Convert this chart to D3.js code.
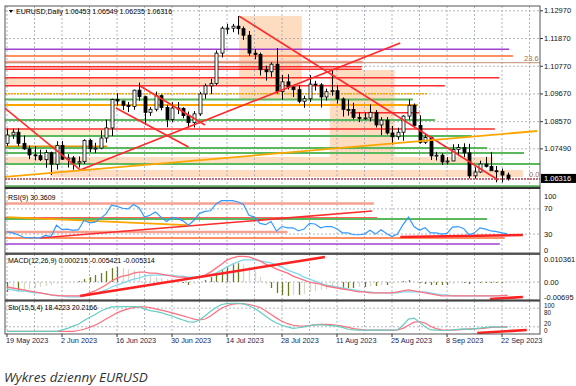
<!DOCTYPE html>
<html><head><meta charset="utf-8">
<script src="https://cdn.jsdelivr.net/npm/d3@7"></script>
<style>body{margin:0;background:#fff}svg{display:block}</style></head>
<body>
<script>
// ---------- DATA ----------
const dateLabels=["19 May 2023","2 Jun 2023","16 Jun 2023","30 Jun 2023","14 Jul 2023","28 Jul 2023","11 Aug 2023","25 Aug 2023","8 Sep 2023","22 Sep 2023"];
const labelBars=[0,10,20,30,40,50,60,70,80,90];
const open=[1.0771,1.0804,1.0815,1.0771,1.0749,1.0725,1.0722,1.0706,1.0734,1.0688,
1.0763,1.0708,1.0713,1.0693,1.0698,1.0782,1.0749,1.0752,1.0792,1.0832,
1.0945,1.0939,1.0922,1.0917,1.0982,1.0956,1.0894,1.0906,1.0960,1.0913,
1.0866,1.0911,1.0910,1.0881,1.0853,1.0888,1.0967,1.0999,1.1009,1.1129,
1.1228,1.1228,1.1236,1.1226,1.1200,1.1129,1.1124,1.1063,1.1055,1.1085,
1.0976,1.1015,1.0995,1.0984,1.0938,1.0948,1.1006,1.1003,1.0955,1.0976,
1.0980,1.0947,1.0905,1.0905,1.0874,1.0872,1.0872,1.0894,1.0844,1.0863,
1.0812,1.0797,1.0815,1.0879,1.0922,1.0842,1.0775,1.0794,1.0721,1.0724,
1.0697,1.0701,1.0747,1.0754,1.0733,1.0642,1.0657,1.0689,1.0679,1.0662,
1.0659,1.06453];
const high=[1.0829,1.0829,1.0830,1.0802,1.0762,1.0760,1.0746,1.0745,1.0738,1.0779,
1.0780,1.0728,1.0721,1.0719,1.0787,1.0789,1.0773,1.0823,1.0865,1.0948,
1.0970,1.0940,1.0935,1.0984,1.1012,1.0960,1.0915,1.0976,1.0965,1.0924,
1.0934,1.0935,1.0914,1.0897,1.0899,1.0975,1.1008,1.1027,1.1140,1.1235,
1.1245,1.1245,1.1276,1.1235,1.1217,1.1145,1.1131,1.1079,1.1092,1.1149,
1.1042,1.1045,1.1001,1.1002,1.0960,1.1042,1.1019,1.1010,1.0988,1.1065,
1.1003,1.0953,1.0945,1.0932,1.0895,1.0893,1.0925,1.0903,1.0875,1.0875,
1.0840,1.0833,1.0882,1.0945,1.0929,1.0882,1.0810,1.0797,1.0737,1.0731,
1.0716,1.0767,1.0768,1.0771,1.0769,1.0676,1.0702,1.0717,1.0737,1.0681,
1.0671,1.06549];
const low=[1.0761,1.0788,1.0760,1.0745,1.0708,1.0703,1.0701,1.0674,1.0645,1.0667,
1.0705,1.0675,1.0666,1.0675,1.0689,1.0736,1.0732,1.0748,1.0774,1.0800,
1.0921,1.0903,1.0895,1.0904,1.0940,1.0844,1.0880,1.0898,1.0902,1.0835,
1.0855,1.0887,1.0870,1.0833,1.0834,1.0880,1.0948,1.0966,1.1002,1.1112,
1.1205,1.1212,1.1203,1.1181,1.1118,1.1105,1.1040,1.1020,1.1035,1.0968,
1.0944,1.0985,1.0955,1.0930,1.0912,1.0935,1.0980,1.0913,1.0941,1.0960,
1.0929,1.0877,1.0881,1.0866,1.0855,1.0864,1.0858,1.0834,1.0803,1.0806,
1.0766,1.0785,1.0781,1.0866,1.0834,1.0770,1.0768,1.0705,1.0703,1.0685,
1.0687,1.0700,1.0720,1.0716,1.0632,1.0631,1.0654,1.0675,1.0669,1.0616,
1.0616,1.06235];
const close=[1.0804,1.0815,1.0771,1.0749,1.0725,1.0722,1.0706,1.0734,1.0688,1.0763,
1.0708,1.0713,1.0693,1.0698,1.0782,1.0749,1.0752,1.0792,1.0832,1.0945,
1.0939,1.0922,1.0917,1.0982,1.0956,1.0894,1.0906,1.0960,1.0913,1.0866,
1.0911,1.0910,1.0881,1.0853,1.0888,1.0967,1.0999,1.1009,1.1129,1.1228,
1.1228,1.1236,1.1226,1.1200,1.1129,1.1124,1.1063,1.1055,1.1085,1.0976,
1.1015,1.0995,1.0984,1.0938,1.0948,1.1006,1.1003,1.0955,1.0976,1.0980,
1.0947,1.0905,1.0905,1.0874,1.0872,1.0872,1.0894,1.0844,1.0863,1.0812,
1.0797,1.0815,1.0879,1.0922,1.0842,1.0775,1.0794,1.0721,1.0724,1.0697,
1.0701,1.0747,1.0754,1.0733,1.0642,1.0657,1.0689,1.0679,1.0662,1.0659,
1.0645,1.06316];
const rsi=[34,32,29,25,24,24,24,28,26,44,37,38,36,37,52,48,49,55,62,76,
74,71,70,77,72,57,60,65,57,50,56,55,51,44,52,63,66,67,78,83,
83,83,81,77,60,57,47,45,50,35,42,40,40,35,38,47,46,40,42,42,
38,32,32,29,29,30,36,30,37,31,26,30,45,57,42,36,40,32,32,30,
31,41,42,39,29,32,40,38,35,34,32,30.36];
const macdMain=[-0.0020,-0.0024,-0.0028,-0.0032,-0.0036,-0.0040,-0.0044,-0.0048,-0.0052,-0.0054,
-0.0056,-0.0056,-0.0056,-0.0056,-0.0052,-0.0044,-0.0036,-0.0024,-0.0012,0.0004,
0.0016,0.0024,0.0028,0.0036,0.0040,0.0040,0.0036,0.0036,0.0032,0.0028,
0.0024,0.0020,0.0020,0.0016,0.0016,0.0020,0.0028,0.0040,0.0056,0.0072,
0.0089,0.0097,0.0103,0.0103,0.0101,0.0093,0.0085,0.0072,0.0064,0.0052,
0.0044,0.0036,0.0024,0.0016,0.0008,0.0000,-0.0004,-0.0008,-0.0016,-0.0020,
-0.0024,-0.0028,-0.0032,-0.0036,-0.0040,-0.0040,-0.0044,-0.0044,-0.0044,-0.0044,
-0.0044,-0.0040,-0.0036,-0.0032,-0.0036,-0.0040,-0.0044,-0.0048,-0.0052,-0.0056,
-0.0056,-0.0056,-0.0056,-0.0056,-0.0056,-0.0056,-0.0056,-0.0056,-0.0056,-0.0056,
-0.0055,-0.005421];
const macdSignal=[-0.0028,-0.0032,-0.0036,-0.0036,-0.0040,-0.0044,-0.0044,-0.0048,-0.0052,-0.0056,
-0.0056,-0.0060,-0.0060,-0.0060,-0.0056,-0.0052,-0.0048,-0.0040,-0.0032,-0.0020,
-0.0012,-0.0004,0.0004,0.0012,0.0016,0.0024,0.0028,0.0028,0.0028,0.0028,
0.0028,0.0024,0.0024,0.0020,0.0020,0.0020,0.0024,0.0028,0.0036,0.0048,
0.0060,0.0072,0.0081,0.0089,0.0089,0.0089,0.0085,0.0081,0.0077,0.0068,
0.0060,0.0048,0.0040,0.0032,0.0020,0.0012,0.0004,-0.0004,-0.0012,-0.0016,
-0.0020,-0.0024,-0.0028,-0.0032,-0.0036,-0.0040,-0.0040,-0.0044,-0.0044,-0.0044,
-0.0044,-0.0044,-0.0040,-0.0040,-0.0040,-0.0040,-0.0040,-0.0044,-0.0048,-0.0052,
-0.0052,-0.0056,-0.0056,-0.0056,-0.0056,-0.0056,-0.0056,-0.0056,-0.0056,-0.0056,
-0.0055,-0.005314];
const macdHist=[-0.0040,-0.0032,-0.0036,-0.0032,-0.0028,-0.0024,-0.0020,-0.0016,-0.0012,-0.0008,
-0.0004,-0.0002,-0.0001,0.0004,0.0012,0.0020,0.0028,0.0036,0.0044,0.0056,
0.0060,0.0056,0.0052,0.0048,0.0040,0.0032,0.0024,0.0020,0.0016,0.0012,
0.0004,0.0000,-0.0004,-0.0012,-0.0008,0.0000,0.0008,0.0020,0.0036,0.0052,
0.0064,0.0072,0.0076,0.0072,0.0060,0.0044,0.0020,-0.0008,-0.0024,-0.0044,
-0.0052,-0.0056,-0.0052,-0.0052,-0.0048,-0.0040,-0.0036,-0.0032,-0.0028,-0.0024,
-0.0020,-0.0024,-0.0024,-0.0024,-0.0020,-0.0020,-0.0016,-0.0016,-0.0012,-0.0012,
-0.0008,-0.0004,0.0004,0.0008,0.0000,-0.0004,-0.0008,-0.0012,-0.0012,-0.0012,
-0.0012,-0.0008,-0.0004,-0.0004,-0.0008,-0.0004,-0.0004,-0.0004,-0.0004,-0.0004,
-0.0004,0.000215];
const stoMain=[5,5,5,5,5,5,5,5,5,5,10,15,22,28,40,50,60,70,78,84,
84,85,85,85,84,78,72,70,66,60,55,48,42,36,35,42,55,70,82,92,
95,96,96,94,88,80,68,55,42,32,25,20,15,17,20,24,26,26,25,24,
22,18,12,10,9,9,9,9,9,9,9,10,25,45,48,35,20,10,9,8,
8,10,12,13,12,14,16,18,20,20,19,18.42];
const stoSignal=[5,5,5,5,5,5,5,5,5,5,5,5,5,8,12,18,25,35,45,55,
65,72,78,82,84,84,82,78,74,70,65,60,55,50,45,42,45,55,68,80,
88,93,95,95,92,88,82,72,60,48,38,30,25,23,22,24,26,28,28,27,
25,22,18,14,12,10,9,9,9,9,9,10,15,25,35,37,32,22,14,10,
9,9,10,12,13,13,14,16,18,19,20,20.22];
const priceTicks=[1.12970,1.11870,1.10770,1.09670,1.08570,1.07490];
const lastPrice=1.06316;
// horizontal levels on price chart: price, from bar, to bar, style key
const levelPrice=[1.11441,1.11176,1.10937,1.1091,1.10751,1.10648,1.10314,1.09997,1.0968,1.09449,1.09231,1.08926,1.08636,1.08279,1.08001,1.07564,1.07524,1.07326,1.06889,1.06294,1.0598];
const levelFrom=[-2,-2,-2,-2,-2,-2,-2,-2,-2,-2,-2,62.4,-2,-2,-2,-2,-2,-2,-2,-2,-2];
const levelTo=[91.3,92,64.7,100,64.5,64.5,89.5,79.6,76.5,73.8,74.7,75,77.8,88.7,84.5,18.2,87.3,94,100,100,100];
const levelKind=["purple","orangered","salmon","fib","red","red","red","red","gold","green","orange","red","green","red","green","orangeThick","green","green","green","maroon","greenThick"];
// rectangles: bars a..b, prices p1..p2
const rectA=[-2,42.2,58.7,-2,7.8,-2];
const rectB=[42.2,53.6,70.5,88.4,93.8,18.7];
const rectP1=[1.10314,1.1276,1.10620,1.07168,1.06651,1.08239];
const rectP2=[1.09997,1.0945,1.06969,1.06929,1.06373,1.08040];
const rectKind=["peach","peach","peach","peach","peach","pale"];
// trendlines price: bar1, price1, bar2, price2
const trendB1=[42.2,13.3,-0.4,24.2,19.8,-0.4];
const trendP1=[1.1276,1.06652,1.09112,1.09985,1.09112,1.06374];
const trendB2=[89.3,71.5,13.3,36,33,96.4];
const trendP2=[1.06255,1.11691,1.06652,1.08437,1.07564,1.08199];
const trendKind=["red","red","red","red","red","orange"];
// RSI objects
const rsiLevel=[78.6,55.6,54,33.3,23.8,14.3];
const rsiLevelTo=[66.7,67.3,87.3,51,90.5,89.6];
const rsiLevelKind=["salmon","red","green","salmon","orangered","purple"];
const rsiTrendB1=[0,6,71.5], rsiTrendV1=[57.1,23.8,25.4], rsiTrendB2=[32.7,66.4,93.8], rsiTrendV2=[44.4,66.7,28.6];
const rsiTrendKind=["orange","red","redThick"];
const rsiTicks=[100,70,30,0];
// MACD objects
const macdTrendB1=[13.3,87.8], macdTrendV1=[-0.00564,-0.0068], macdTrendB2=[57.8,93.8], macdTrendV2=[0.0101,-0.006];
const macdTicks=[0.010361,0.00,-0.00695];
const macdTickText=["0.010361","0.00","-0.00695"];
// Sto objects
const stoTrendB1=[85.5], stoTrendV1=[0], stoTrendB2=[94.5], stoTrendV2=[9.7];
const stoTicks=[100,80,20,0];

// ---------- STYLES ----------
const S={
 purple:{c:"#a040d0",w:1.6}, orangered:{c:"#ff6a30",w:1.6}, salmon:{c:"#f7a090",w:2.4},
 fib:{c:"#c09070",w:1}, red:{c:"#ff2a2a",w:1.6}, gold:{c:"#f5a500",w:1.6,d:"2,1"},
 green:{c:"#5cb85c",w:2}, orange:{c:"#ffa500",w:1.8}, orangeThick:{c:"#e8900c",w:3},
 maroon:{c:"#b04050",w:1.5,d:"2,1"}, greenThick:{c:"#5aa85a",w:3.5},
 redThick:{c:"#ff2020",w:2.6}
};
const RF={peach:"#fddcc0",pale:"#fbf1d0"};

const W=576,H=386, L=5, R=540;
const P={main:[6,188],rsi:[188,253],macd:[254,300],sto:[301,334]};
const svg=d3.select("body").append("svg").attr("width",W).attr("height",H)
 .style("font-family","'Liberation Sans',Arial,sans-serif");
svg.append("rect").attr("width",W).attr("height",H).attr("fill","#fff");

const x=d3.scaleLinear().domain([0,91]).range([7,507.5]);
const yM=d3.scaleLinear().domain([1.0598,1.1297]).range([186.9,10.8]);
const yR=d3.scaleLinear().domain([0,100]).range([253,190]);
const yD=d3.scaleLinear().domain([-0.00695,0.010361]).range([299.3,256.3]);
const yS=d3.scaleLinear().domain([0,100]).range([333,302]);

const defs=svg.append("defs");
Object.entries(P).forEach(([k,[t,b]])=>{
  defs.append("clipPath").attr("id","c"+k).append("rect").attr("x",L).attr("y",t).attr("width",R-L).attr("height",b-t);
});
const gM=svg.append("g").attr("clip-path","url(#cmain)");
const gR=svg.append("g").attr("clip-path","url(#crsi)");
const gD=svg.append("g").attr("clip-path","url(#cmacd)");
const gS=svg.append("g").attr("clip-path","url(#csto)");

// rectangles
gM.selectAll(".rc").data(rectA).join("rect")
 .attr("x",(d,i)=>x(rectA[i])).attr("width",(d,i)=>x(rectB[i])-x(rectA[i]))
 .attr("y",(d,i)=>yM(rectP1[i])).attr("height",(d,i)=>yM(rectP2[i])-yM(rectP1[i]))
 .attr("fill",(d,i)=>RF[rectKind[i]]);

// grid
const gridBars=d3.range(0,96,5);
const gridStyle=g=>g.attr("stroke","#9aa3b5").attr("stroke-width",0.8).attr("stroke-dasharray","2,2");
[[gM,P.main],[gR,P.rsi],[gD,P.macd],[gS,P.sto]].forEach(([g,[t,b]])=>{
  g.selectAll(".vg").data(gridBars).join("line").attr("x1",d=>x(d)).attr("x2",d=>x(d)).attr("y1",t).attr("y2",b).call(gridStyle);
});
gM.selectAll(".hg").data(priceTicks).join("line").attr("x1",L).attr("x2",R).attr("y1",d=>yM(d)).attr("y2",d=>yM(d)).call(gridStyle);
gR.selectAll(".hg").data([70,30]).join("line").attr("x1",L).attr("x2",R).attr("y1",d=>yR(d)).attr("y2",d=>yR(d)).call(gridStyle);
gD.append("line").attr("x1",L).attr("x2",R).attr("y1",yD(0)).attr("y2",yD(0)).call(gridStyle);
gS.selectAll(".hg").data([80,20]).join("line").attr("x1",L).attr("x2",R).attr("y1",d=>yS(d)).attr("y2",d=>yS(d)).call(gridStyle);

function styled(sel,kind){const s=S[kind];sel.attr("stroke",s.c).attr("stroke-width",s.w);if(s.d)sel.attr("stroke-dasharray",s.d);return sel;}

// levels
levelPrice.forEach((p,i)=>{
  gM.append("line").attr("x1",x(levelFrom[i])).attr("x2",x(levelTo[i])).attr("y1",yM(p)).attr("y2",yM(p)).call(styled,levelKind[i]);
});

// candles
const idx=d3.range(open.length);
gM.selectAll(".wick").data(idx).join("line")
 .attr("x1",i=>Math.round(x(i))+0.5).attr("x2",i=>Math.round(x(i))+0.5)
 .attr("y1",i=>yM(high[i])).attr("y2",i=>yM(low[i])).attr("stroke","#000").attr("stroke-width",1);
gM.selectAll(".body").data(idx).join("rect")
 .attr("x",i=>Math.round(x(i))-1).attr("width",3)
 .attr("y",i=>yM(Math.max(open[i],close[i])))
 .attr("height",i=>Math.max(1,Math.abs(yM(open[i])-yM(close[i]))))
 .attr("fill",i=>close[i]>=open[i]?"#fff":"#000").attr("stroke","#000").attr("stroke-width",0.8);

// trendlines
trendB1.forEach((b,i)=>{
  gM.append("line").attr("x1",x(b)).attr("y1",yM(trendP1[i])).attr("x2",x(trendB2[i])).attr("y2",yM(trendP2[i])).call(styled,trendKind[i]);
});

// fib labels
gM.append("text").attr("x",524).attr("y",yM(1.1091)-2).attr("font-size",7.5).attr("fill","#a07050").text("23.6");
gM.append("text").attr("x",529).attr("y",yM(1.06294)-2).attr("font-size",7.5).attr("fill","#a07050").text("0.0");

// title
svg.append("path").attr("d","M9,10 L13,10 L11,13 Z").attr("fill","#000");
svg.append("text").attr("x",16).attr("y",14).attr("font-size",7).attr("fill","#000").text("EURUSD,Daily  1.06453 1.06549 1.06235 1.06316");

// RSI panel
rsiLevel.forEach((v,i)=>{
  gR.append("line").attr("x1",x(-2)).attr("x2",x(rsiLevelTo[i])).attr("y1",yR(v)).attr("y2",yR(v)).call(styled,rsiLevelKind[i]);
});
rsiTrendB1.forEach((b,i)=>{
  gR.append("line").attr("x1",x(b)).attr("y1",yR(rsiTrendV1[i])).attr("x2",x(rsiTrendB2[i])).attr("y2",yR(rsiTrendV2[i])).call(styled,rsiTrendKind[i]);
});
gR.append("path").datum(rsi).attr("fill","none").attr("stroke","#3399ff").attr("stroke-width",1.2)
 .attr("d",d3.line().x((d,i)=>x(i)).y(d=>yR(d)));
svg.append("text").attr("x",8).attr("y",200).attr("font-size",7).text("RSI(9) 30.3609");

// MACD panel
gD.selectAll(".hb").data(idx).join("line")
 .attr("x1",i=>Math.round(x(i))+0.5).attr("x2",i=>Math.round(x(i))+0.5)
 .attr("y1",yD(0)).attr("y2",i=>yD(macdHist[i]))
 .attr("stroke",i=>(i>0&&Math.abs(macdHist[i])<Math.abs(macdHist[i-1]))?"#d8d8c8":"#6b7a20").attr("stroke-width",1.3);
const ln=sc=>d3.line().x((d,i)=>x(i)).y(d=>sc(d));
gD.append("path").datum(macdSignal).attr("fill","none").attr("stroke","#7fd8ee").attr("stroke-width",1.3).attr("d",ln(yD));
gD.append("path").datum(macdMain).attr("fill","none").attr("stroke","#ff7080").attr("stroke-width",1.3).attr("d",ln(yD));
macdTrendB1.forEach((b,i)=>{
  gD.append("line").attr("x1",x(b)).attr("y1",yD(macdTrendV1[i])).attr("x2",x(macdTrendB2[i])).attr("y2",yD(macdTrendV2[i])).call(styled,"redThick");
});
svg.append("text").attr("x",8).attr("y",263).attr("font-size",7).text("MACD(12,26,9) 0.000215 -0.005421 -0.005314");

// Sto panel
gS.append("path").datum(stoSignal).attr("fill","none").attr("stroke","#ff6f7f").attr("stroke-width",1.2).attr("d",ln(yS));
gS.append("path").datum(stoMain).attr("fill","none").attr("stroke","#66cdc0").attr("stroke-width",1.2).attr("d",ln(yS));
stoTrendB1.forEach((b,i)=>{
  gS.append("line").attr("x1",x(b)).attr("y1",yS(stoTrendV1[i])).attr("x2",x(stoTrendB2[i])).attr("y2",yS(stoTrendV2[i])).call(styled,"redThick");
});
svg.append("text").attr("x",8).attr("y",310).attr("font-size",7).text("Sto(15,5,4) 18.4223 20.2166");

// panel borders
Object.values(P).forEach(([t,b])=>{
  svg.append("rect").attr("x",L).attr("y",t).attr("width",R-L).attr("height",b-t).attr("fill","none").attr("stroke","#555").attr("stroke-width",1);
});
svg.append("line").attr("x1",L).attr("x2",R).attr("y1",188).attr("y2",188).attr("stroke","#333").attr("stroke-width",2);
svg.append("line").attr("x1",L).attr("x2",R).attr("y1",254).attr("y2",254).attr("stroke","#444").attr("stroke-width",1.5);
svg.append("line").attr("x1",L).attr("x2",R).attr("y1",300.5).attr("y2",300.5).attr("stroke","#444").attr("stroke-width",1.5);

// right axes
const axT=(sel)=>sel.attr("font-size",7.5).attr("fill","#111");
priceTicks.forEach(p=>{
  svg.append("line").attr("x1",R).attr("x2",R+3).attr("y1",yM(p)).attr("y2",yM(p)).attr("stroke","#333");
  svg.append("text").attr("x",R+4).attr("y",Math.max(9,yM(p))+2.5).call(axT).text(p.toFixed(5));
});
svg.append("rect").attr("x",R+1).attr("y",yM(lastPrice)-4.5).attr("width",35).attr("height",9).attr("fill","#000");
svg.append("text").attr("x",R+4).attr("y",yM(lastPrice)+2.5).call(axT).attr("fill","#fff").text(lastPrice.toFixed(5));
rsiTicks.forEach(v=>{
  svg.append("text").attr("x",R+4).attr("y",Math.min(250,Math.max(196,yR(v)))+2.5).call(axT).text(v);
});
macdTicks.forEach((v,i)=>{
  svg.append("text").attr("x",R+4).attr("y",Math.min(297,Math.max(259,yD(v)))+2.5).call(axT).text(macdTickText[i]);
});
// sto labels: tiny panel, spread them so they do not collide
const stoLabelY=[307.5,315,325.5,333];
stoTicks.forEach((v,i)=>{
  svg.append("text").attr("x",R+4).attr("y",stoLabelY[i]).attr("font-size",6.3).attr("fill","#111").text(v);
});

// date axis
labelBars.forEach((b,i)=>{
  svg.append("line").attr("x1",x(b)).attr("x2",x(b)).attr("y1",334).attr("y2",337).attr("stroke","#333");
  svg.append("text").attr("x",x(b)-1).attr("y",343).attr("font-size",7.3).attr("fill","#1c1c50").text(dateLabels[i]);
});

// caption
svg.append("text").attr("x",4).attr("y",382).attr("font-family","'Open Sans',sans-serif").attr("font-style","italic")
 .attr("font-size",13.5).attr("fill","#333").text("Wykres dzienny EURUSD");
</script>
</body></html>
